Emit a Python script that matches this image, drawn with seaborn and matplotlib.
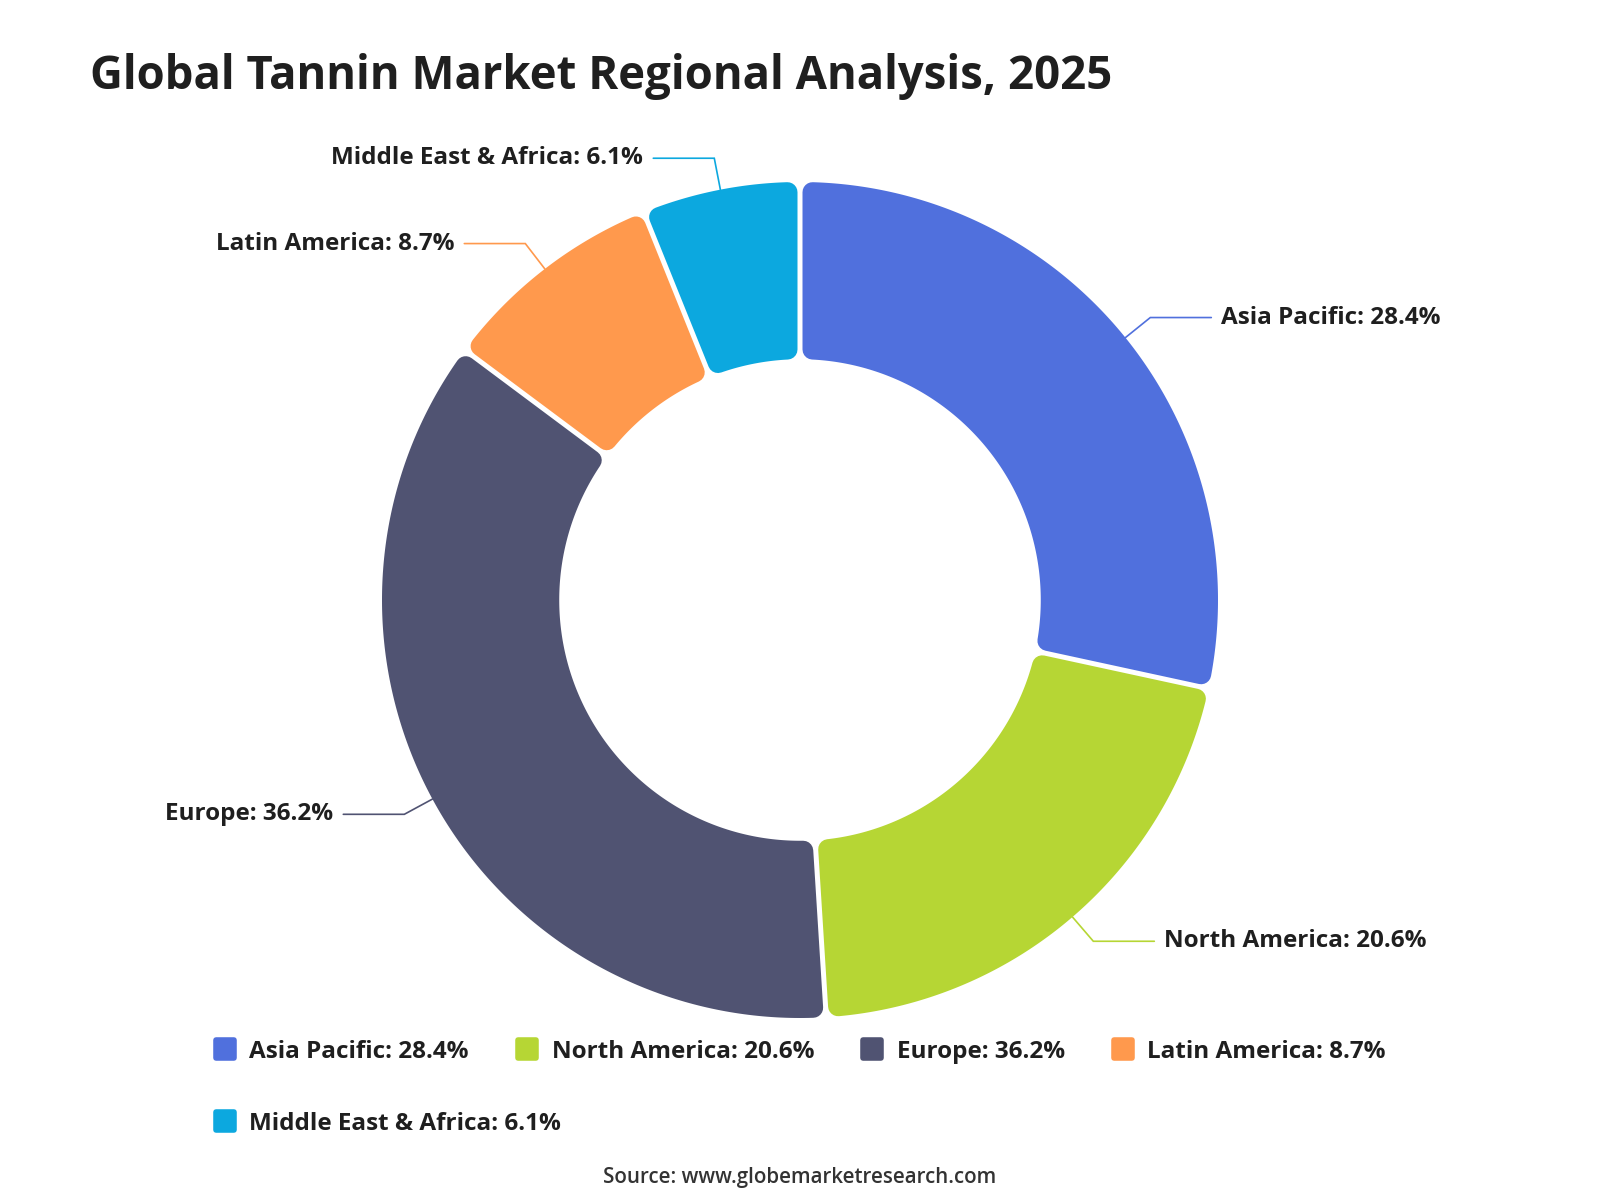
import numpy as np
import matplotlib
matplotlib.use("Agg")
import matplotlib.pyplot as plt
from matplotlib.path import Path
from matplotlib.patches import PathPatch
from matplotlib.lines import Line2D
from matplotlib.markers import MarkerStyle
import seaborn as sns

# data
regions = ["Asia Pacific", "North America", "Europe", "Latin America", "Middle East & Africa"]
shares = [28.4, 20.6, 36.2, 8.7, 6.1]
colors = ["#5070dd", "#b6d634", "#505372", "#ff994d", "#0ca8df"]
labels = [f"{r}: {s}%" for r, s in zip(regions, shares)]

sns.set_theme(style="white")
plt.rcParams['font.family'] = ['Open Sans', 'Lato', 'DejaVu Sans']

W, H = 1600, 1200
PX = 418  # pixels per data unit (outer radius)

fig = plt.figure(figsize=(16, 12), dpi=100)
ax = fig.add_axes([0, 0, 1, 1])

wedges, _ = ax.pie(shares, colors=colors, startangle=90, counterclock=False,
                   radius=1.0, wedgeprops=dict(width=0.424))
ax.set_xlim(-(W / 2) / PX, (W / 2) / PX)
ax.set_ylim(-(H / 2) / PX, (H / 2) / PX)
ax.set_aspect('equal')
ax.axis('off')


def rounded_wedge(t1, t2, r_out, r_in, corner, gap):
    # inset outline of the ring sector; stroked back out with round joins
    h = corner + gap / 2
    ro, ri = r_out - corner, r_in + corner
    a1o = t1 + np.degrees(np.arcsin(h / ro))
    a2o = t2 - np.degrees(np.arcsin(h / ro))
    a1i = t1 + np.degrees(np.arcsin(h / ri))
    a2i = t2 - np.degrees(np.arcsin(h / ri))
    outer = np.radians(np.linspace(a1o, a2o, 200))
    inner = np.radians(np.linspace(a2i, a1i, 200))
    xs = np.concatenate([ro * np.cos(outer), ri * np.cos(inner)])
    ys = np.concatenate([ro * np.sin(outer), ri * np.sin(inner)])
    verts = np.column_stack([xs, ys])
    verts = np.vstack([verts, verts[:1]])
    codes = [Path.MOVETO] + [Path.LINETO] * (len(verts) - 2) + [Path.CLOSEPOLY]
    return Path(verts, codes)


corner = 10 / PX
gap = 5 / PX
for w, c, lab in zip(wedges, colors, labels):
    w.set_visible(False)
    path = rounded_wedge(w.theta1, w.theta2, w.r, w.r - w.width, corner, gap)
    ax.add_patch(PathPatch(path, facecolor=c, edgecolor=c,
                           lw=2 * corner * PX * 0.72, joinstyle='round'))

    # label with leader line
    mid = np.radians((w.theta1 + w.theta2) / 2)
    cx, cy = np.cos(mid), np.sin(mid)
    r0, l1, l2 = 1.0, 32 / PX, 61 / PX
    x0, y0 = r0 * cx, r0 * cy
    x1, y1 = (r0 + l1) * cx, (r0 + l1) * cy
    side = 1 if cx >= 0 else -1
    x2 = x1 + side * l2
    ax.plot([x0, x1, x2], [y0, y1, y1], color=c, lw=1.2, solid_joinstyle='miter')
    ax.text(x2 + side * 10 / PX, y1, lab, ha='left' if side > 0 else 'right',
            va='center', fontsize=17.5, fontweight='bold', color='#1f1f1f')

# legend (two rows, like the flowing legend of the original)
handles = [Line2D([], [], ls='none', marker=MarkerStyle('s', joinstyle='round'),
                  markersize=13.5, markerfacecolor=c, markeredgecolor=c,
                  markeredgewidth=4) for c in colors]
leg_kw = dict(frameon=False, prop=dict(weight='bold', size=17.5), handlelength=1.0,
              handletextpad=0.5, columnspacing=1.9, borderpad=0, borderaxespad=0,
              labelcolor='#1f1f1f')
leg1 = ax.legend(handles[:4], labels[:4], loc='center left', ncol=4,
                 bbox_to_anchor=(213 / W, 1 - 1052 / H), **leg_kw)
ax.add_artist(leg1)
ax.legend(handles[4:], labels[4:], loc='center left', ncol=1,
          bbox_to_anchor=(213 / W, 1 - 1124 / H), **leg_kw)

fig.text(90 / W, 1 - 76 / H, "Global Tannin Market Regional Analysis, 2025",
         fontsize=32.8, fontweight='bold', color='#1f1f1f', va='center', ha='left')
fig.text(0.5, 1 - 1178 / H, "Source: www.globemarketresearch.com",
         fontsize=14.8, fontweight='semibold', color='#333333', va='center', ha='center')

fig.savefig("out.png", dpi=100)
